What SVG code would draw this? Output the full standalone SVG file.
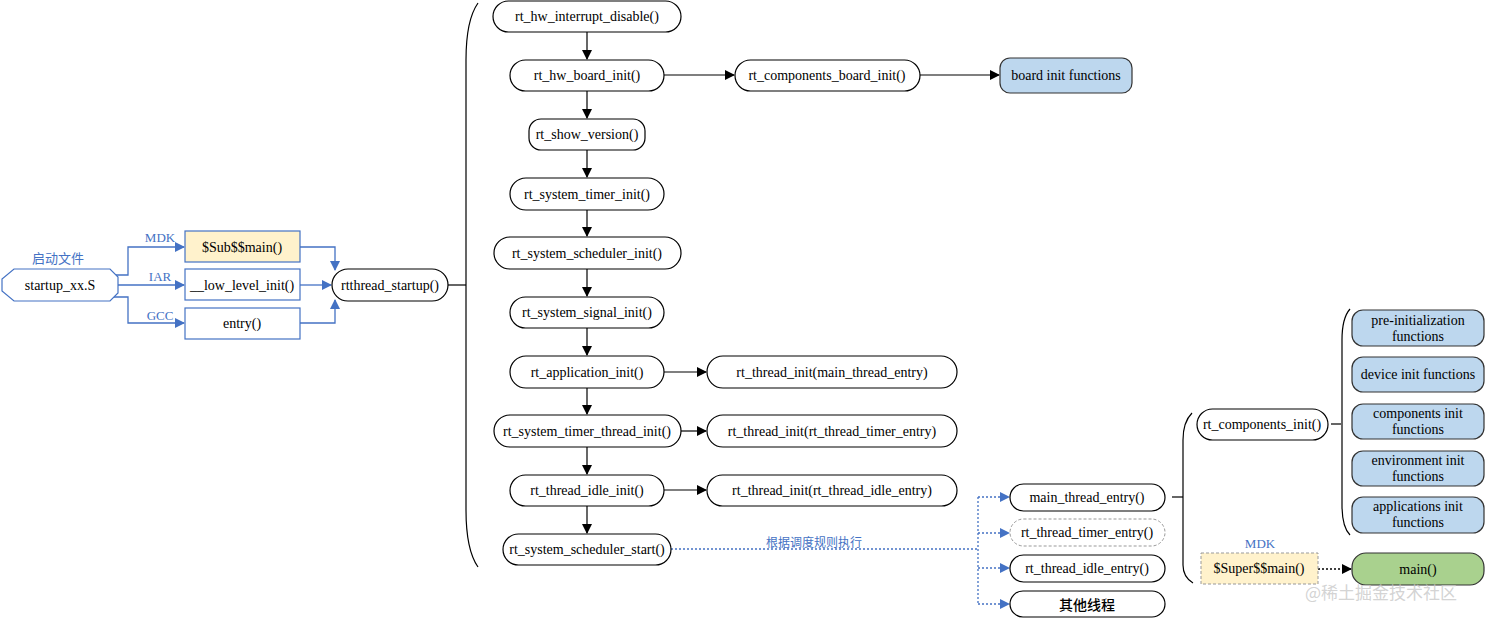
<svg xmlns="http://www.w3.org/2000/svg" width="1485" height="618" viewBox="0 0 1485 618">
<defs>
<marker id="ab" markerWidth="10" markerHeight="10" refX="9" refY="5" orient="auto" markerUnits="userSpaceOnUse"><path d="M0,0 L10,5 L0,10 z" fill="#000"/></marker>
<marker id="abl" markerWidth="10" markerHeight="10" refX="9" refY="5" orient="auto" markerUnits="userSpaceOnUse"><path d="M0,0 L10,5 L0,10 z" fill="#4472C4"/></marker>
<style>
text{font-family:"Liberation Serif","Noto Sans CJK SC",serif;font-size:14px;text-anchor:middle;dominant-baseline:central;fill:#000}
.n{fill:#fff;stroke:#000;stroke-width:1.2}
.b{fill:#BDD7EE;stroke:#333;stroke-width:1.2}
.g{fill:#A9D18E;stroke:#333;stroke-width:1.2}
.y{fill:#FFF2CC;stroke:#4472C4;stroke-width:1.2}
.w{fill:#fff;stroke:#4472C4;stroke-width:1.2}
.lb{fill:#4472C4;font-size:13px}
.cj{font-family:"Noto Sans CJK SC",sans-serif}
.c{fill:none;stroke:#000;stroke-width:1.2}
.cg{fill:none;stroke:#555;stroke-width:1.3}
.cb{fill:none;stroke:#4472C4;stroke-width:1.3}
.cd{fill:none;stroke:#4472C4;stroke-width:1.3;stroke-dasharray:2,2}
</style>
</defs>

<g id="connectors">
<path class="cb" d="M108,275 H128 V247 H184" marker-end="url(#abl)"/>
<path class="cb" d="M118,285 H184" marker-end="url(#abl)"/>
<path class="cb" d="M108,297 H128 V323 H184" marker-end="url(#abl)"/>
<path class="cb" d="M300,247 H335 V270" marker-end="url(#abl)"/>
<path class="cb" d="M300,285 H331" marker-end="url(#abl)"/>
<path class="cb" d="M300,323 H335 V300" marker-end="url(#abl)"/>
<path class="c" d="M448,285 H466"/>
<path class="c" d="M478,3 Q466,20 466,60 V510 Q466,550 478,567"/>
<path class="c" d="M587,32 V59" marker-end="url(#ab)"/>
<path class="c" d="M587,91 V118" marker-end="url(#ab)"/>
<path class="c" d="M587,150 V177" marker-end="url(#ab)"/>
<path class="c" d="M587,210 V236" marker-end="url(#ab)"/>
<path class="c" d="M587,269 V296" marker-end="url(#ab)"/>
<path class="c" d="M587,328 V355" marker-end="url(#ab)"/>
<path class="c" d="M587,388 V414" marker-end="url(#ab)"/>
<path class="c" d="M587,447 V474" marker-end="url(#ab)"/>
<path class="c" d="M587,506 V533" marker-end="url(#ab)"/>
<path class="cg" d="M664,75 H734" marker-end="url(#ab)"/>
<path class="cg" d="M920,75 H999" marker-end="url(#ab)"/>
<path class="c" d="M664,372 H706" marker-end="url(#ab)"/>
<path class="c" d="M681,431 H706" marker-end="url(#ab)"/>
<path class="c" d="M664,490 H706" marker-end="url(#ab)"/>
<path class="cd" d="M671,549 H978"/>
<path class="cd" d="M978,497 V604"/>
<path class="cd" d="M978,497 H1009" marker-end="url(#abl)"/>
<path class="cd" d="M978,533 H1009" marker-end="url(#abl)"/>
<path class="cd" d="M978,568 H1009" marker-end="url(#abl)"/>
<path class="cd" d="M978,604 H1009" marker-end="url(#abl)"/>
<path class="c" d="M1172,497 H1183"/>
<path class="c" d="M1192,413 Q1183,422 1183,440 V565 Q1183,577 1193,583"/>
<path class="c" d="M1331,424 H1341"/>
<path class="c" d="M1350,309 Q1342,318 1342,340 V505 Q1342,527 1350,535"/>
<path d="M1318,569 H1351" fill="none" stroke="#000" stroke-width="1.3" stroke-dasharray="2,2" marker-end="url(#ab)"/>
</g>

<text x="58" y="257" class="lb cj" style="font-size:13px">启动文件</text>
<text x="160" y="237" class="lb">MDK</text>
<text x="160" y="276" class="lb">IAR</text>
<text x="160" y="315" class="lb">GCC</text>
<text x="814" y="541" class="lb cj" style="font-size:12px">根据调度规则执行</text>
<text x="1260" y="543" class="lb">MDK</text>

<g id="startup"><path class="w" d="M14,269 H110 L118,277 V293 L110,301 H14 L2,291 V279 Z"/><text x="60" y="285">startup_xx.S</text></g>
<g id="subMain"><rect class="y" x="185" y="231" width="115" height="31"/><text x="242" y="247">$Sub$$main()</text></g>
<g id="lowLevelInit"><rect class="w" x="185" y="269" width="115" height="31"/><text x="242" y="285">__low_level_init()</text></g>
<g id="entry"><rect class="w" x="185" y="308" width="115" height="31"/><text x="242" y="323">entry()</text></g>
<g id="rtthreadStartup"><rect class="n" x="332" y="269" width="116" height="32" rx="16"/><text x="390" y="285">rtthread_startup()</text></g>

<g id="n1"><rect class="n" x="493" y="1" width="188" height="31" rx="15.5"/><text x="587" y="16.5">rt_hw_interrupt_disable()</text></g>
<g id="n2"><rect class="n" x="510" y="60" width="154" height="31" rx="15.5"/><text x="587" y="75.5">rt_hw_board_init()</text></g>
<g id="n3"><rect class="n" x="529" y="119" width="116" height="31" rx="12"/><text x="587" y="134.5">rt_show_version()</text></g>
<g id="n4"><rect class="n" x="510" y="178" width="154" height="32" rx="16"/><text x="587" y="194">rt_system_timer_init()</text></g>
<g id="n5"><rect class="n" x="494" y="237" width="187" height="32" rx="16"/><text x="587" y="253">rt_system_scheduler_init()</text></g>
<g id="n6"><rect class="n" x="510" y="297" width="154" height="31" rx="15.5"/><text x="587" y="312.5">rt_system_signal_init()</text></g>
<g id="n7"><rect class="n" x="510" y="356" width="154" height="32" rx="16"/><text x="587" y="372">rt_application_init()</text></g>
<g id="n8"><rect class="n" x="494" y="415" width="187" height="32" rx="16"/><text x="587" y="431">rt_system_timer_thread_init()</text></g>
<g id="n9"><rect class="n" x="510" y="475" width="154" height="31" rx="15.5"/><text x="587" y="490.5">rt_thread_idle_init()</text></g>
<g id="n10"><rect class="n" x="503" y="534" width="168" height="31" rx="15.5"/><text x="587" y="549.5">rt_system_scheduler_start()</text></g>

<g id="componentsBoardInit"><rect class="n" x="735" y="60" width="185" height="31" rx="15.5"/><text x="827" y="75.5">rt_components_board_init()</text></g>
<g id="boardInitFunctions"><rect class="b" x="1000" y="58" width="132" height="35" rx="10"/><text x="1066" y="75.5">board init functions</text></g>

<g id="threadInitMain"><rect class="n" x="707" y="356" width="250" height="32" rx="16"/><text x="832" y="372">rt_thread_init(main_thread_entry)</text></g>
<g id="threadInitTimer"><rect class="n" x="707" y="415" width="250" height="32" rx="16"/><text x="832" y="431">rt_thread_init(rt_thread_timer_entry)</text></g>
<g id="threadInitIdle"><rect class="n" x="707" y="475" width="250" height="31" rx="15.5"/><text x="832" y="490.5">rt_thread_init(rt_thread_idle_entry)</text></g>

<g id="mainThreadEntry"><rect class="n" x="1010" y="484" width="155" height="27" rx="13.5"/><text x="1087" y="497.5">main_thread_entry()</text></g>
<g id="timerEntry"><rect x="1010" y="519" width="155" height="27" rx="13.5" fill="#fff" stroke="#999" stroke-width="1" stroke-dasharray="3,2"/><text x="1087" y="532.5">rt_thread_timer_entry()</text></g>
<g id="idleEntry"><rect class="n" x="1010" y="555" width="155" height="27" rx="13.5"/><text x="1087" y="568.5">rt_thread_idle_entry()</text></g>
<g id="otherThreads"><rect class="n" x="1010" y="591" width="155" height="26" rx="13"/><text x="1087" y="604" class="cj" style="font-size:14px;font-weight:500">其他线程</text></g>

<g id="componentsInit"><rect class="n" x="1197" y="409" width="131" height="31" rx="15.5"/><text x="1262" y="424.5">rt_components_init()</text></g>
<g id="preInit"><rect class="b" x="1352" y="310" width="132" height="36" rx="11"/><text x="1418" y="320">pre-initialization</text><text x="1418" y="336">functions</text></g>
<g id="deviceInit"><rect class="b" x="1352" y="357" width="132" height="35" rx="11"/><text x="1418" y="374.5">device init functions</text></g>
<g id="componentsInitFn"><rect class="b" x="1352" y="404" width="132" height="35" rx="11"/><text x="1418" y="413">components init</text><text x="1418" y="429">functions</text></g>
<g id="envInit"><rect class="b" x="1352" y="451" width="132" height="35" rx="11"/><text x="1418" y="460">environment init</text><text x="1418" y="476">functions</text></g>
<g id="appInit"><rect class="b" x="1352" y="497" width="132" height="36" rx="11"/><text x="1418" y="506">applications init</text><text x="1418" y="522">functions</text></g>

<g id="superMain"><rect x="1201" y="553" width="117" height="31" fill="#FFF2CC" stroke="#999" stroke-width="1" stroke-dasharray="3,2"/><text x="1259" y="568.5">$Super$$main()</text></g>
<g id="main"><rect class="g" x="1352" y="553" width="132" height="32" rx="14"/><text x="1418" y="569">main()</text></g>

<text x="1381" y="591" style="font-family:'Noto Sans CJK SC',sans-serif;font-size:17px;fill:#c8c8c8;fill-opacity:0.8">@稀土掘金技术社区</text>
</svg>
